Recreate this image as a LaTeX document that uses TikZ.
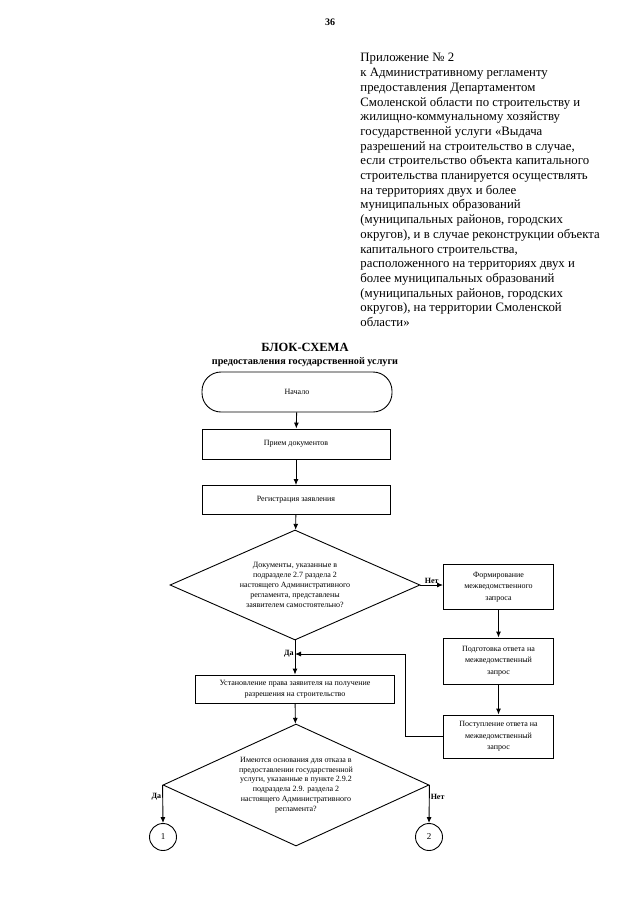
\documentclass[tikz,border=0pt]{standalone}
\usepackage{fontspec}
\setmainfont{Liberation Serif}
\usetikzlibrary{shapes.geometric,arrows.meta}
\begin{document}
\begin{tikzpicture}[x=1pt,y=-1pt,
  line width=0.9pt,
  arr/.style={-{Latex[length=6pt,width=5pt]}},
  procbox/.style={draw,rectangle,inner sep=1pt,align=center,font=\fontsize{8}{11}\selectfont},
  sidebox/.style={draw,rectangle,inner sep=1pt,align=center,font=\fontsize{8}{11.5}\selectfont,minimum width=110pt},
  decision/.style={draw,diamond,inner sep=0pt,align=center,font=\fontsize{8}{9.8}\selectfont},
  terminal/.style={draw,rectangle,rounded corners=19pt,align=center,font=\fontsize{8}{10}\selectfont,minimum width=190pt,minimum height=40pt},
  connector/.style={draw,circle,minimum size=27pt,inner sep=0pt,font=\fontsize{9}{10}\selectfont},
  lbl/.style={font=\fontsize{8}{10}\selectfont\bfseries,inner sep=1pt},
  ttl/.style={font=\bfseries,inner sep=0pt}
]
\useasboundingbox[fill=white] (0,0) rectangle (640,905);

\node[font=\fontsize{10}{12}\selectfont\bfseries] (page) at (330,22) {36};

\node[anchor=north west,align=left,inner sep=0pt,font=\fontsize{12.8}{14.7}\selectfont] (hdr) at (360,53) {Приложение № 2\\
к Административному регламенту\\
предоставления Департаментом\\
Смоленской области по строительству и\\
жилищно-коммунальному хозяйству\\
государственной услуги «Выдача\\
разрешений на строительство в случае,\\
если строительство объекта капитального\\
строительства планируется осуществлять\\
на территориях двух и более\\
муниципальных образований\\
(муниципальных районов, городских\\
округов), и в случае реконструкции объекта\\
капитального строительства,\\
расположенного на территориях двух и\\
более муниципальных образований\\
(муниципальных районов, городских\\
округов), на территории Смоленской\\
области»};

\node[ttl,font=\fontsize{12.5}{14}\selectfont\bfseries] (title1) at (305,347) {БЛОК-СХЕМА};
\node[ttl,font=\fontsize{10.2}{12}\selectfont\bfseries] (title2) at (305,362) {предоставления государственной услуги};

\node[terminal] (start) at (297,392) {Начало};
\node[procbox,minimum width=188pt,minimum height=30pt] (b1) at (296,444) {Прием документов};
\node[procbox,minimum width=188pt,minimum height=29pt] (b2) at (296,500) {Регистрация заявления};
\node[decision,minimum width=250pt,minimum height=110pt,shape aspect=2.27] (d1) at (295,585) {Документы, указанные в\\подразделе 2.7 раздела 2\\настоящего Административного\\регламента, представлены\\заявителем самостоятельно?};

\node[sidebox,minimum height=45pt] (fa) at (498.5,587) {Формирование\\межведомственного\\запроса};
\node[sidebox,minimum height=46pt] (fb) at (498.5,661) {Подготовка ответа на\\межведомственный\\запрос};
\node[sidebox,minimum height=43pt] (fc) at (498.5,736.5) {Поступление ответа на\\межведомственный\\запрос};

\node[procbox,minimum width=199pt,minimum height=28pt] (bd) at (295,689) {Установление права заявителя на получение\\разрешения на строительство};

\node[decision,minimum width=266pt,minimum height=122pt,shape aspect=2.18] (d2) at (296,785) {Имеются основания для отказа в\\предоставлении государственной\\услуги, указанные в пункте 2.9.2\\подраздела 2.9. раздела 2\\настоящего Административного\\регламента?};

\node[connector] (c1) at (163,837) {1};
\node[connector] (c2) at (429,837) {2};

\coordinate (join) at (295,654);
\coordinate (fbk1) at (405,736.5);
\coordinate (fbk2) at (405,654);

\draw[arr] (start) -- (b1);
\draw[arr] (b1) -- (b2);
\draw[arr] (b2) -- (d1);
\draw[arr] (d1.east) -- node[lbl,above]{Нет} (d1.east -| fa.west);
\draw[arr] (fa) -- (fb);
\draw[arr] (fb) -- (fc);
\draw[arr] (d1.south) -- node[lbl,left,pos=0.4]{Да} (bd.north);
\draw[arr] (fc.west) -- (fbk1) -- (fbk2) -- (join);
\draw[arr] (bd) -- (d2);
\draw[arr] (d2.west) -- node[lbl,left,pos=0.3]{Да} (c1.north);
\draw[arr] (d2.east) -- node[lbl,right,pos=0.3]{Нет} (c2.north);
\end{tikzpicture}
\end{document}
